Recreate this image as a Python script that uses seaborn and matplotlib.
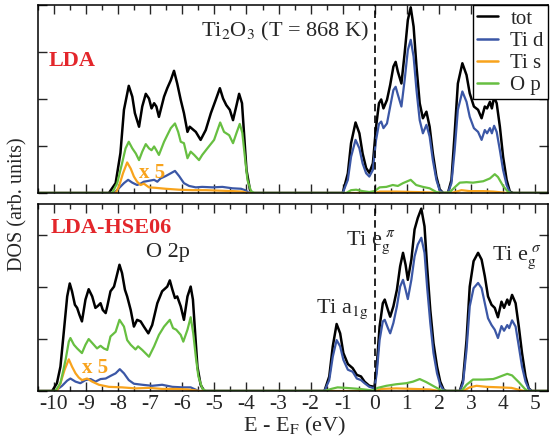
import numpy as np
import pandas as pd
import matplotlib
matplotlib.use("Agg")
import matplotlib.pyplot as plt
import seaborn as sns

# ---- data (energy in eV, DOS in arb. units) ----
e_range = (-10.5, 5.4)

# LDA panel, valence band
e_lda_vb_tot = [-8.29, -8.08, -7.93, -7.82, -7.67, -7.56, -7.48, -7.35, -7.25, -7.14, -7.04, -6.96, -6.88, -6.81,
                -6.73, -6.57, -6.47, -6.36, -6.26, -6.16, -6.05, -5.95, -5.84, -5.77, -5.58, -5.43, -5.27, -5.11,
                -4.96, -4.83, -4.73, -4.63, -4.52, -4.42, -4.31, -4.23, -4.14, -4.07, -4.00, -3.89, -3.81]
dos_lda_vb_tot = [0, 0.21, 0.85, 1.77, 2.28, 2.05, 1.70, 1.41, 1.84, 2.11, 2.01, 1.80, 1.91, 1.84,
                  1.62, 2.05, 2.23, 2.40, 2.60, 2.33, 1.98, 1.70, 1.30, 1.41, 1.30, 1.13, 1.34, 1.70,
                  1.98, 2.23, 2.01, 1.87, 1.77, 1.55, 1.87, 2.11, 1.91, 1.20, 0.49, 0.06, 0]
e_lda_vb_op = [-8.19, -8.03, -7.88, -7.77, -7.67, -7.56, -7.45, -7.35, -7.25, -7.14, -7.04, -6.96, -6.88, -6.81,
               -6.73, -6.57, -6.47, -6.36, -6.23, -6.13, -6.05, -5.95, -5.84, -5.74, -5.63, -5.48, -5.38, -5.22,
               -5.01, -4.82, -4.70, -4.54, -4.42, -4.31, -4.21, -4.13, -4.05, -3.97, -3.86, -3.76]
dos_lda_vb_op = [0, 0.21, 0.63, 0.95, 1.09, 0.95, 0.84, 0.70, 0.88, 1.04, 0.95, 0.91, 0.99, 0.91,
                 0.81, 1.09, 1.23, 1.38, 1.48, 1.30, 1.09, 1.06, 0.74, 0.88, 0.81, 0.70, 0.81, 0.95,
                 1.13, 1.50, 1.30, 1.23, 1.06, 1.28, 1.47, 1.28, 0.77, 0.28, 0.04, 0]
e_lda_vb_tis = [-8.08, -7.98, -7.85, -7.72, -7.61, -7.51, -7.41, -7.30, -7.20, -7.04, -6.83, -6.52, -6.10,
                -5.69, -5.27, -4.85, -4.44, -4.13, -3.97]
dos_lda_vb_tis = [0, 0.13, 0.42, 0.65, 0.52, 0.35, 0.24, 0.17, 0.20, 0.12, 0.11, 0.09, 0.07,
                  0.06, 0.06, 0.05, 0.04, 0.03, 0]
e_lda_vb_tid = [-8.13, -7.98, -7.82, -7.69, -7.56, -7.41, -7.30, -7.20, -7.04, -6.88, -6.78, -6.68, -6.52,
                -6.36, -6.23, -6.10, -5.95, -5.79, -5.58, -5.38, -5.06, -4.75, -4.44, -4.17, -4.04, -3.92]
dos_lda_vb_tid = [0, 0.10, 0.21, 0.28, 0.22, 0.17, 0.20, 0.24, 0.26, 0.28, 0.24, 0.31, 0.36,
                  0.42, 0.47, 0.36, 0.21, 0.15, 0.12, 0.13, 0.12, 0.13, 0.10, 0.09, 0.06, 0]

# LDA panel, conduction band (tot and Ti d share the energies)
e_lda_cb = [-1.00, -0.84, -0.74, -0.60, -0.48, -0.38, -0.27, -0.17, -0.06, 0.04, 0.13, 0.20, 0.27, 0.38,
            0.48, 0.58, 0.65, 0.72, 0.83, 0.93, 1.03, 1.12, 1.21, 1.30, 1.40, 1.50, 1.61, 1.71, 1.81,
            1.92, 2.02, 2.13, 2.28, 2.39, 2.49, 2.59, 2.73, 2.86, 2.96, 3.09, 3.22, 3.33, 3.43, 3.50,
            3.59, 3.65, 3.72, 3.80, 3.90, 4.00, 4.11, 4.21, 4.31]
dos_lda_cb_tot = [0, 0.42, 1.06, 1.50, 1.27, 0.84, 0.53, 0.43, 0.63, 1.41, 1.91, 1.99, 1.80, 1.98,
                  2.30, 2.69, 2.79, 2.58, 2.33, 2.97, 3.68, 3.95, 3.54, 2.69, 1.91, 1.59, 1.73, 1.41, 0.84,
                  0.35, 0.08, 0, 0, 0.28, 1.27, 2.33, 2.76, 2.51, 2.12, 1.84, 1.77, 1.59, 1.84, 1.80,
                  1.94, 1.80, 2.04, 1.91, 1.41, 0.77, 0.28, 0.03, 0]
dos_lda_cb_tid = [0, 0.28, 0.77, 1.13, 0.95, 0.63, 0.42, 0.35, 0.49, 1.13, 1.47, 1.52, 1.38, 1.48,
                  1.84, 2.19, 2.26, 2.09, 1.84, 2.40, 3.04, 3.26, 2.90, 2.19, 1.55, 1.27, 1.45, 1.20, 0.70,
                  0.28, 0.06, 0, 0, 0.21, 0.91, 1.77, 2.16, 1.94, 1.62, 1.38, 1.30, 1.13, 1.34, 1.27,
                  1.38, 1.27, 1.43, 1.30, 0.91, 0.49, 0.17, 0.01, 0]
e_lda_cb_op = [-0.89, -0.74, -0.58, -0.38, -0.17, -0.01, 0.15, 0.36, 0.56, 0.72, 0.88, 1.12, 1.29, 1.50,
               1.71, 1.92, 2.08, 2.33, 2.49, 2.65, 2.86, 3.06, 3.38, 3.59, 3.74, 3.84, 4.00, 4.16, 4.26]
dos_lda_cb_op = [0, 0.06, 0.07, 0.04, 0.02, 0.04, 0.12, 0.13, 0.17, 0.15, 0.21, 0.28, 0.17, 0.13,
                 0.10, 0.02, 0, 0.01, 0.12, 0.22, 0.23, 0.22, 0.25, 0.31, 0.40, 0.34, 0.15, 0.02, 0]
e_lda_cb_tis = [-0.58, 0.04, 0.15, 0.67, 1.29, 1.92, 2.13, 2.44, 2.70, 2.96, 3.38, 3.69, 4.00, 4.16]
dos_lda_cb_tis = [0, 0.01, 0.03, 0.03, 0.02, 0.01, 0, 0.01, 0.06, 0.04, 0.04, 0.03, 0.01, 0]

# LDA-HSE06 panel, valence band
e_hse_vb_tot = [-10.06, -9.91, -9.80, -9.70, -9.59, -9.51, -9.44, -9.35, -9.28, -9.21, -9.13, -9.02, -8.92,
                -8.81, -8.71, -8.63, -8.55, -8.48, -8.39, -8.34, -8.24, -8.13, -8.06, -7.96, -7.88, -7.79,
                -7.72, -7.61, -7.51, -7.41, -7.30, -7.20, -7.06, -6.94, -6.78, -6.63, -6.47, -6.39, -6.31,
                -6.23, -6.16, -6.05, -5.95, -5.84, -5.74, -5.67, -5.60, -5.53, -5.43, -5.32]
dos_hse_vb_tot = [0, 0.15, 0.47, 1.11, 1.82, 2.07, 1.92, 1.66, 1.60, 1.47, 1.34, 1.76, 1.96,
                  1.82, 1.60, 1.64, 1.69, 1.56, 1.50, 1.63, 1.92, 2.01, 2.18, 2.43, 2.27, 1.95,
                  1.82, 1.56, 1.24, 1.37, 1.34, 1.24, 1.11, 1.27, 1.69, 1.92, 2.01, 2.13, 1.95,
                  1.79, 1.82, 1.63, 1.37, 1.82, 2.01, 1.76, 1.11, 0.47, 0.12, 0]
e_hse_vb_op = [-9.96, -9.80, -9.64, -9.54, -9.49, -9.38, -9.28, -9.13, -9.02, -8.92, -8.76, -8.66, -8.55,
               -8.45, -8.34, -8.24, -8.08, -7.96, -7.82, -7.72, -7.61, -7.46, -7.38, -7.25, -7.04, -6.88,
               -6.73, -6.57, -6.39, -6.29, -6.19, -6.05, -5.97, -5.84, -5.74, -5.66, -5.58, -5.50, -5.38, -5.27]
dos_hse_vb_op = [0, 0.15, 0.60, 0.95, 1.02, 0.89, 0.82, 0.73, 0.89, 1.00, 0.89, 0.82, 0.87,
                 0.82, 0.79, 1.05, 1.14, 1.37, 1.24, 0.98, 0.89, 0.80, 0.86, 0.79, 0.66, 0.86,
                 1.08, 1.24, 1.37, 1.21, 1.18, 1.08, 0.95, 1.18, 1.42, 1.11, 0.66, 0.28, 0.05, 0]
e_hse_vb_tis = [-9.91, -9.80, -9.67, -9.54, -9.44, -9.33, -9.23, -9.13, -8.97, -8.81, -8.60, -8.29, -7.88,
                -7.46, -7.04, -6.63, -6.21, -5.84, -5.58, -5.48]
dos_hse_vb_tis = [0, 0.15, 0.41, 0.61, 0.47, 0.34, 0.26, 0.21, 0.24, 0.18, 0.12, 0.08, 0.07,
                  0.05, 0.06, 0.04, 0.04, 0.03, 0.01, 0]
e_hse_vb_tid = [-9.96, -9.75, -9.59, -9.49, -9.33, -9.18, -9.02, -8.86, -8.71, -8.55, -8.39, -8.24, -8.08,
                -7.95, -7.82, -7.67, -7.51, -7.25, -6.94, -6.63, -6.31, -6.00, -5.74, -5.60, -5.48]
dos_hse_vb_tid = [0, 0.10, 0.20, 0.24, 0.18, 0.15, 0.21, 0.23, 0.18, 0.23, 0.24, 0.29, 0.34,
                  0.42, 0.34, 0.21, 0.14, 0.12, 0.10, 0.12, 0.08, 0.07, 0.07, 0.03, 0]

# LDA-HSE06 panel, conduction band (tot and Ti d share the energies)
e_hse_cb = [-1.57, -1.42, -1.31, -1.19, -1.08, -0.98, -0.84, -0.69, -0.56, -0.43, -0.32, -0.17, -0.01,
            0.06, 0.15, 0.25, 0.31, 0.41, 0.48, 0.58, 0.69, 0.79, 0.88, 0.96, 1.03, 1.14, 1.24, 1.34,
            1.45, 1.55, 1.63, 1.73, 1.83, 1.94, 2.04, 2.15, 2.23, 2.65, 2.75, 2.86, 2.96, 3.08, 3.22,
            3.33, 3.43, 3.53, 3.64, 3.74, 3.84, 3.95, 4.03, 4.13, 4.19, 4.28, 4.39, 4.49, 4.59, 4.70,
            4.80, 4.89]
dos_hse_cb_tot = [0, 0.28, 0.86, 1.29, 1.11, 0.73, 0.52, 0.44, 0.31, 0.28, 0.18, 0.10, 0.08,
                  0.47, 1.24, 1.69, 1.76, 1.56, 1.43, 1.63, 1.95, 2.40, 2.66, 2.43, 2.14, 2.53, 3.11, 3.33,
                  3.51, 3.17, 2.40, 1.56, 0.92, 0.47, 0.18, 0.02, 0, 0, 0.21, 0.98, 2.01, 2.50, 2.66,
                  2.53, 2.21, 1.82, 1.66, 1.60, 1.42, 1.72, 1.60, 1.76, 1.66, 1.85, 1.69, 1.24, 0.73, 0.28,
                  0.05, 0]
dos_hse_cb_tid = [0, 0.21, 0.66, 0.98, 0.86, 0.60, 0.41, 0.37, 0.24, 0.21, 0.15, 0.08, 0.05,
                  0.34, 0.98, 1.34, 1.37, 1.21, 1.11, 1.31, 1.63, 2.01, 2.14, 1.95, 1.77, 2.14, 2.59, 2.82,
                  2.95, 2.66, 2.01, 1.31, 0.73, 0.34, 0.12, 0.01, 0, 0, 0.15, 0.79, 1.63, 1.98, 2.08,
                  1.98, 1.69, 1.40, 1.27, 1.18, 1.02, 1.25, 1.16, 1.27, 1.21, 1.36, 1.24, 0.86, 0.47, 0.18,
                  0.04, 0]
e_hse_cb_op = [-1.57, -1.36, -1.16, -0.90, -0.48, -0.06, 0.09, 0.36, 0.67, 0.98, 1.19, 1.40, 1.61, 1.87,
               2.08, 2.23, 2.70, 2.86, 3.06, 3.38, 3.69, 3.79, 4.00, 4.13, 4.28, 4.49, 4.68, 4.77]
dos_hse_cb_op = [0, 0.04, 0.07, 0.06, 0.04, 0.01, 0.06, 0.10, 0.13, 0.15, 0.18, 0.23, 0.17, 0.08,
                 0.01, 0, 0, 0.12, 0.22, 0.22, 0.23, 0.25, 0.30, 0.33, 0.30, 0.17, 0.04, 0]
e_hse_cb_tis = [0.04, 0.20, 0.67, 1.19, 1.71, 2.02, 2.75, 2.96, 3.17, 3.48, 3.90, 4.26, 4.58, 4.68]
dos_hse_cb_tis = [0, 0.04, 0.05, 0.04, 0.03, 0, 0, 0.07, 0.10, 0.08, 0.07, 0.06, 0.01, 0]

labels = ["tot", "Ti d", "Ti s", "O p"]
colors = ["black", "#3b57a6", "#f8a31c", "#67bf41"]
panel_ymax = [4.0, 3.6]

lda_curves = [
    (e_lda_vb_tot, dos_lda_vb_tot, e_lda_cb, dos_lda_cb_tot),
    (e_lda_vb_tid, dos_lda_vb_tid, e_lda_cb, dos_lda_cb_tid),
    (e_lda_vb_tis, dos_lda_vb_tis, e_lda_cb_tis, dos_lda_cb_tis),
    (e_lda_vb_op, dos_lda_vb_op, e_lda_cb_op, dos_lda_cb_op),
]
hse_curves = [
    (e_hse_vb_tot, dos_hse_vb_tot, e_hse_cb, dos_hse_cb_tot),
    (e_hse_vb_tid, dos_hse_vb_tid, e_hse_cb, dos_hse_cb_tid),
    (e_hse_vb_tis, dos_hse_vb_tis, e_hse_cb_tis, dos_hse_cb_tis),
    (e_hse_vb_op, dos_hse_vb_op, e_hse_cb_op, dos_hse_cb_op),
]

sns.set_style("ticks")
plt.rcParams["font.family"] = ["Liberation Serif", "DejaVu Serif"]
plt.rcParams["mathtext.fontset"] = "stix"
plt.rcParams["axes.unicode_minus"] = False

fig = plt.figure(figsize=(5.5, 4.42), dpi=100)
ax1 = fig.add_axes([38 / 550, 1 - 193 / 442, 510 / 550, 188 / 442])
ax2 = fig.add_axes([38 / 550, 1 - 391 / 442, 510 / 550, 187 / 442])

for ax, curves, ymax in zip([ax1, ax2], [lda_curves, hse_curves], panel_ymax):
    for (ev, dv, ec, dc), lab, col in zip(curves, labels, colors):
        df = pd.DataFrame({"E": [e_range[0]] + ev + ec + [e_range[1]],
                           "DOS": [0] + dv + dc + [0]})
        sns.lineplot(data=df, x="E", y="DOS", color=col, lw=1.8 if col == "black" else 1.6,
                     label=lab, estimator=None, solid_joinstyle="round", ax=ax)
    ax.axvline(0, color="black", lw=1.2, ls=(0, (4.5, 2.5)))
    ax.set_xlim(*e_range)
    ax.set_ylim(0, ymax)
    ax.set_xticks(np.arange(-10, 6, 1))
    ax.set_xticks(np.arange(-10.5, 5.5, 0.5), minor=True)
    ax.set_yticks(np.arange(0, ymax + 0.01, 1))
    ax.set_yticklabels([])
    ax.tick_params(which="major", direction="in", top=True, right=True, length=6.5, width=1)
    ax.tick_params(which="minor", direction="in", top=True, right=False, left=False, length=3.5, width=1)
    ax.set_xlabel("")
    ax.set_ylabel("")
    for s in ax.spines.values():
        s.set_linewidth(1.1)
        s.set_color("black")

ax1.set_xticklabels([])
ax2.set_xticklabels([str(t) for t in range(-10, 6)], fontsize=15.5)
ax2.tick_params(axis="x", pad=3)
ax2.get_legend().remove()

leg = ax1.legend(loc="upper right", fontsize=15, frameon=True, fancybox=False,
                 borderaxespad=0, handlelength=1.0, handletextpad=0.6,
                 labelspacing=0.12, borderpad=0.2)
leg.get_frame().set_edgecolor("black")
leg.get_frame().set_linewidth(1.0)
leg.get_frame().set_alpha(1)
for h in leg.get_lines():
    h.set_linewidth(1.8)

red = "#e3262b"
ax1.text(-10.17, 2.71, "LDA", color=red, fontsize=16, fontweight="bold", va="baseline")
ax2.text(-10.10, 3.05, "LDA-HSE06", color=red, fontsize=16, fontweight="bold", va="baseline")
ax1.text(-5.42, 3.33, r"Ti$_2$O$_3$ (T = 868 K)", fontsize=16, va="baseline")
ax1.text(-7.35, 0.32, "x 5", color=colors[2], fontsize=15, fontweight="bold", va="baseline")
ax2.text(-9.14, 0.35, "x 5", color=colors[2], fontsize=15, fontweight="bold", va="baseline")
ax2.text(-7.13, 2.58, "O 2p", fontsize=16, va="baseline")
ax2.text(-1.82, 1.50, r"Ti a$_{\mathrm{1g}}$", fontsize=16, va="baseline")
ax2.text(-0.89, 2.82, r"Ti e$_{\mathrm{g}}^{\ \pi}$", fontsize=16, va="baseline")
ax2.text(3.65, 2.53, r"Ti e$_{\mathrm{g}}^{\ \sigma}$", fontsize=16, va="baseline")

fig.text(18 / 550, 1 - 204 / 442, "DOS (arb. units)", rotation=90, fontsize=14.5,
         ha="center", va="center")
fig.text(295 / 550, 1 - 431 / 442, r"E - E$_\mathrm{F}$ (eV)", fontsize=16,
         ha="center", va="baseline")

fig.savefig("out.png", dpi=100)
